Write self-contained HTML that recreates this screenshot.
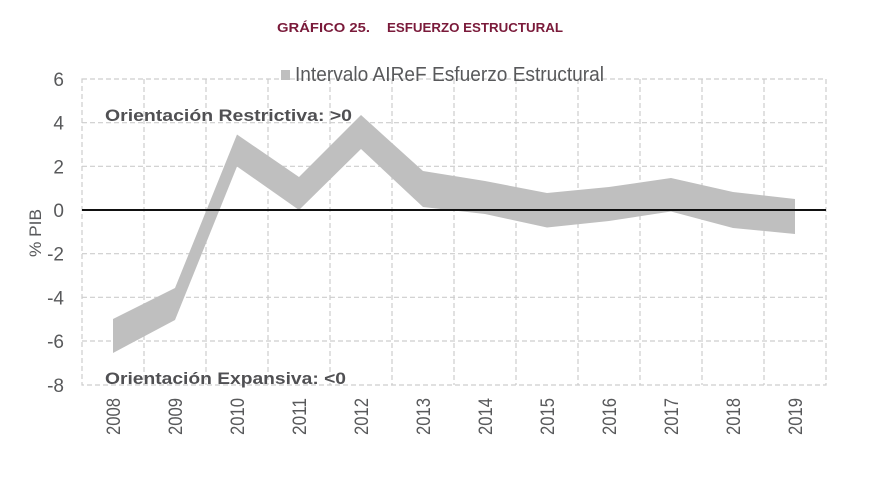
<!DOCTYPE html>
<html>
<head>
<meta charset="utf-8">
<style>
html,body{margin:0;padding:0;background:#fff;}
svg{display:block;}
text{font-family:"Liberation Sans",sans-serif;}
</style>
</head>
<body>
<svg width="880" height="495" viewBox="0 0 880 495" xmlns="http://www.w3.org/2000/svg">
  <rect width="880" height="495" fill="#fff"/>
  <!-- Title -->
  <text x="277" y="32" font-size="13" font-weight="bold" fill="#7a1a3a" textLength="93" lengthAdjust="spacingAndGlyphs">GRÁFICO 25.</text>
  <text x="387" y="32" font-size="13" font-weight="bold" fill="#7a1a3a" textLength="176" lengthAdjust="spacingAndGlyphs">ESFUERZO ESTRUCTURAL</text>

  <!-- Grid -->
  <g stroke="#cdcdcd" stroke-width="1.2" stroke-dasharray="5,3" fill="none">
    <line x1="82" y1="122.7" x2="826" y2="122.7"/>
    <line x1="82" y1="166.3" x2="826" y2="166.3"/>
    <line x1="82" y1="253.7" x2="826" y2="253.7"/>
    <line x1="82" y1="297.3" x2="826" y2="297.3"/>
    <line x1="82" y1="341" x2="826" y2="341"/>
    <line x1="144" y1="79" x2="144" y2="385"/>
    <line x1="206" y1="79" x2="206" y2="385"/>
    <line x1="268" y1="79" x2="268" y2="385"/>
    <line x1="330" y1="79" x2="330" y2="385"/>
    <line x1="392" y1="79" x2="392" y2="385"/>
    <line x1="454" y1="79" x2="454" y2="385"/>
    <line x1="516" y1="79" x2="516" y2="385"/>
    <line x1="578" y1="79" x2="578" y2="385"/>
    <line x1="640" y1="79" x2="640" y2="385"/>
    <line x1="702" y1="79" x2="702" y2="385"/>
    <line x1="764" y1="79" x2="764" y2="385"/>
    <rect x="82" y="79" width="744" height="306"/>
  </g>

  <!-- Band -->
  <polygon fill="#bfbfbf" points="
    113,319 175,288 237,134.5 299,177 361,115 423,171 485,181 547,193 609,187 671,178 733,192 795,199
    795,234 733,228 671,211.5 609,221 547,227.5 485,214 423,207 361,149 299,210 237,166.5 175,320 113,353"/>

  <!-- Zero line -->
  <line x1="82" y1="210" x2="826" y2="210" stroke="#111" stroke-width="2"/>

  <!-- Legend -->
  <rect x="281" y="70" width="9" height="10" fill="#bfbfbf"/>
  <text x="295" y="81" font-size="20" fill="#58595b" textLength="309" lengthAdjust="spacingAndGlyphs">Intervalo AIReF Esfuerzo Estructural</text>

  <!-- Annotations -->
  <text x="105" y="121" font-size="17" font-weight="bold" fill="#505053" textLength="247" lengthAdjust="spacingAndGlyphs">Orientación Restrictiva: &gt;0</text>
  <text x="105" y="384" font-size="17" font-weight="bold" fill="#505053" textLength="241" lengthAdjust="spacingAndGlyphs">Orientación Expansiva: &lt;0</text>

  <!-- Y tick labels -->
  <g font-size="19" fill="#58595b" text-anchor="end">
    <text x="64" y="86">6</text>
    <text x="64" y="129.7">4</text>
    <text x="64" y="173.3">2</text>
    <text x="64" y="217">0</text>
    <text x="64" y="260.7">-2</text>
    <text x="64" y="304.3">-4</text>
    <text x="64" y="348">-6</text>
    <text x="64" y="392">-8</text>
  </g>
  <text transform="translate(41,233) rotate(-90)" font-size="17" fill="#58595b" text-anchor="middle" textLength="48" lengthAdjust="spacingAndGlyphs">% PIB</text>

  <!-- X tick labels -->
  <g font-size="19" fill="#58595b" text-anchor="end">
    <text transform="translate(120,398) rotate(-90)" textLength="37" lengthAdjust="spacingAndGlyphs">2008</text>
    <text transform="translate(182,398) rotate(-90)" textLength="37" lengthAdjust="spacingAndGlyphs">2009</text>
    <text transform="translate(244,398) rotate(-90)" textLength="37" lengthAdjust="spacingAndGlyphs">2010</text>
    <text transform="translate(306,398) rotate(-90)" textLength="37" lengthAdjust="spacingAndGlyphs">2011</text>
    <text transform="translate(368,398) rotate(-90)" textLength="37" lengthAdjust="spacingAndGlyphs">2012</text>
    <text transform="translate(430,398) rotate(-90)" textLength="37" lengthAdjust="spacingAndGlyphs">2013</text>
    <text transform="translate(492,398) rotate(-90)" textLength="37" lengthAdjust="spacingAndGlyphs">2014</text>
    <text transform="translate(554,398) rotate(-90)" textLength="37" lengthAdjust="spacingAndGlyphs">2015</text>
    <text transform="translate(616,398) rotate(-90)" textLength="37" lengthAdjust="spacingAndGlyphs">2016</text>
    <text transform="translate(678,398) rotate(-90)" textLength="37" lengthAdjust="spacingAndGlyphs">2017</text>
    <text transform="translate(740,398) rotate(-90)" textLength="37" lengthAdjust="spacingAndGlyphs">2018</text>
    <text transform="translate(802,398) rotate(-90)" textLength="37" lengthAdjust="spacingAndGlyphs">2019</text>
  </g>
</svg>
</body>
</html>
